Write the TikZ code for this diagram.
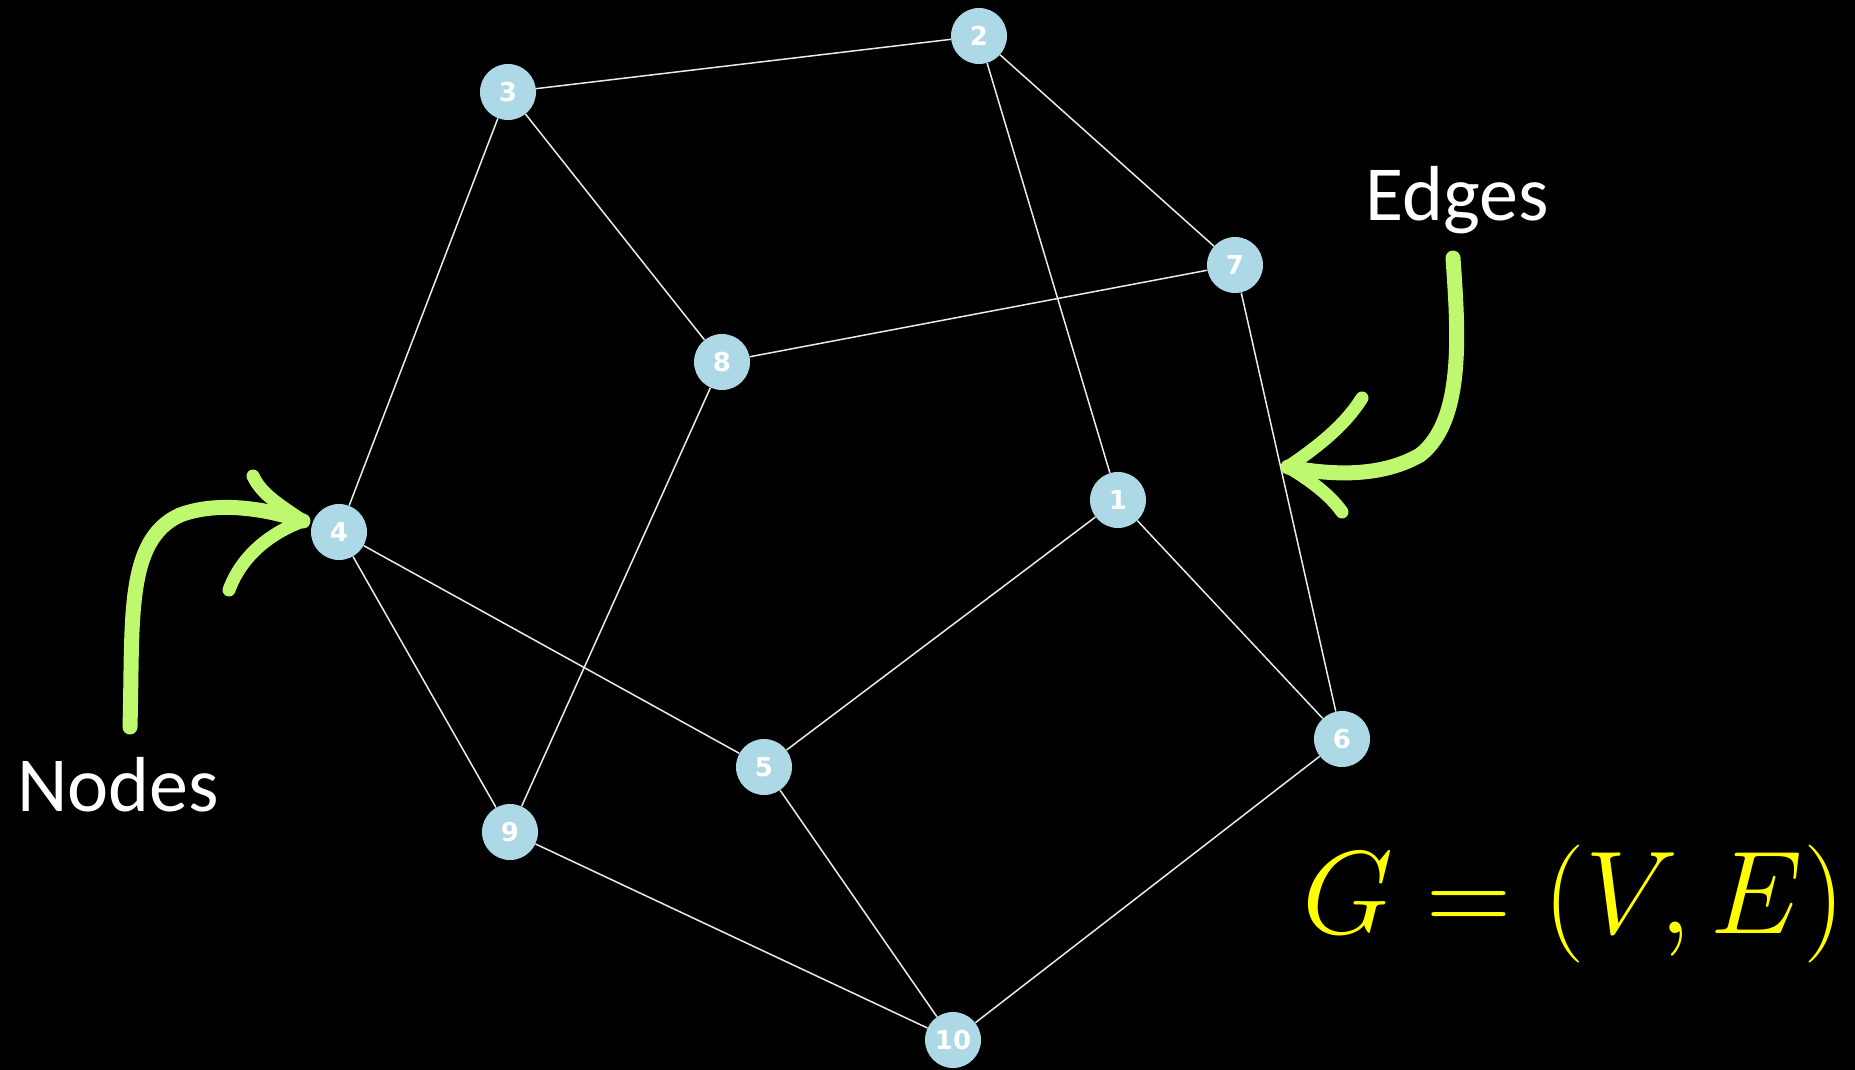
\RequirePackage{fix-cm}
\documentclass[tikz,border=0pt]{standalone}
\usepackage{fontspec}
\newfontfamily\calibri{Carlito}
\newfontfamily\dejavu{DejaVu Sans}
\usetikzlibrary{positioning, calc}
\definecolor{vtx}{RGB}{173,216,230}
\definecolor{brush}{RGB}{190,248,110}
\definecolor{formula}{RGB}{255,255,0}

\begin{document}
\begin{tikzpicture}[x=1pt, y=-1pt,
    vertex/.style={circle, fill=vtx, minimum size=56pt, inner sep=0pt, text=white,
      font=\dejavu\bfseries\fontsize{26}{26}\selectfont},
    link/.style={white!92!black, line width=1.5pt},
    shaft/.style={brush, line width=15pt, line cap=round},
    barb/.style={brush, line width=13pt, line cap=round},
    callout/.style={white, font=\calibri\fontsize{78}{80}\selectfont, inner sep=0pt}]
  \fill[black] (0,0) rectangle (1855,1070);
  \useasboundingbox (0,0) rectangle (1855,1070);
  % vertices
  \node[vertex] (v1) at (1118,500) {1};
  \node[vertex] (v2) at (979,36) {2};
  \node[vertex] (v3) at (508,92) {3};
  \node[vertex] (v4) at (339,532) {4};
  \node[vertex] (v5) at (764,767) {5};
  \node[vertex] (v6) at (1342,739) {6};
  \node[vertex] (v7) at (1235,265) {7};
  \node[vertex] (v8) at (722,362) {8};
  \node[vertex] (v9) at (510,832) {9};
  \node[vertex] (v10) at (953,1040) {10};
  % edges
  \foreach \a/\b in {3/2, 2/7, 2/1, 3/8, 3/4, 8/7, 8/9, 4/5, 4/9, 1/5, 1/6, 7/6, 5/10, 9/10, 6/10}
    \draw[link] (v\a) -- (v\b);
  % labels
  \node[callout, anchor=base west] (nodes) at (17,811) {Nodes};
  \node[callout, anchor=base west] (edges) at (1365,220) {Edges};
  \node[formula, inner sep=0pt, anchor=base west] (gve) at (1302,933)
    {\fontsize{118}{120}\selectfont $G=(V,E)$};
  % brush arrows
  \coordinate (ntail) at (130,727);
  \coordinate (ntip) at (303,521);
  \coordinate (etail) at (1453,258);
  \coordinate (etip) at (1288,467);
  \draw[shaft] (ntail) .. controls (133,620) and (125,540) .. (180,515)
    .. controls (220,500) and (270,510) .. (ntip);
  \draw[barb] (ntip) .. controls (280,505) and (262,495) .. (253,476);
  \draw[barb] (ntip) .. controls (265,535) and (240,560) .. (229,590);
  \draw[shaft] (etail) .. controls (1458,330) and (1465,420) .. (1420,455)
    .. controls (1380,478) and (1330,475) .. (etip);
  \draw[barb] (etip) .. controls (1320,445) and (1345,425) .. (1362,398);
  \draw[barb] (etip) .. controls (1310,480) and (1330,495) .. (1342,512);
\end{tikzpicture}
\end{document}
